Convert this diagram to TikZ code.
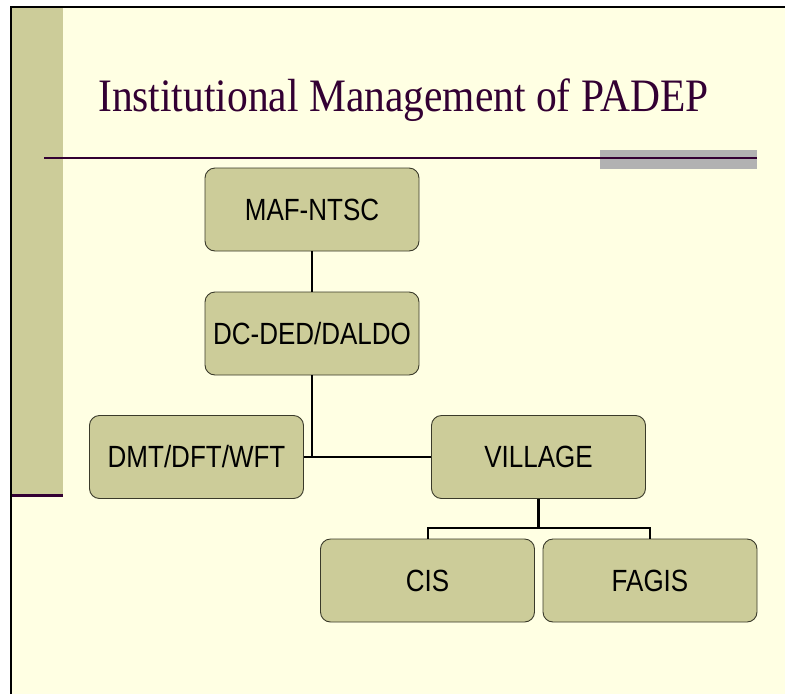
\documentclass[tikz,border=0pt]{standalone}
\usepackage{fontspec}
\setmainfont{Liberation Serif}
\setsansfont{Liberation Sans}
\usepackage{tikz}

\definecolor{slidebg}{HTML}{FFFFE3}
\definecolor{olive}{HTML}{CCCC99}
\definecolor{plum}{HTML}{330033}
\definecolor{bargray}{HTML}{B2B2B2}
\definecolor{edgegray}{HTML}{3A3A2A}

\newcommand{\tallbox}[1]{\scalebox{1}[1.18]{#1}}

\tikzset{
  unit/.style={draw=edgegray, line width=0.9pt, fill=olive, rounded corners=10pt,
    minimum width=214pt, minimum height=83pt, inner sep=0pt,
    font=\sffamily\fontsize{26}{26}\selectfont},
  link/.style={line width=2.6pt, black},
  fork/.style={line width=2pt, black}
}

\begin{document}
\begin{tikzpicture}[x=1pt,y=-1pt]
            \useasboundingbox (0,0) rectangle (785,694);

            % slide background
            \fill[white] (0,0) rectangle (785,694);
            \fill[slidebg] (11,7) rectangle (785,694);
            \fill[olive] (12,8) rectangle (63,496);
            \draw[plum, line width=2.5pt] (12,495.5)--(63,495.5);
            \draw[black, line width=2pt] (11,694)--(11,7)--(785,7);

            % title and rule
            \node[anchor=base west, inner sep=0pt, text=plum,
                  font=\fontsize{41.5}{41.5}\selectfont] (title) at (98,111)
                  {\scalebox{1}[1.12]{Institutional Management of PADEP}};
            \fill[bargray] (600,150) rectangle (757,169);
            \draw[plum, line width=1.6pt] (44,158)--(757,158);

            % chart
            \node[unit] (maf) at (312,209.5) {\tallbox{MAF-NTSC}};
            \node[unit] (dc) at (312,333.5) {\tallbox{DC-DED/DALDO}};
            \node[unit] (dmt) at (196.5,457) {\tallbox{DMT/DFT/WFT}};
            \node[unit] (vil) at (538.5,457) {\tallbox{VILLAGE}};
            \node[unit] (cis) at (427.5,580.5) {\tallbox{CIS}};
            \node[unit] (fag) at (650,580.5) {\tallbox{FAGIS}};
            \coordinate (split) at (538.5,528);

            \draw[link] (maf)--(dc);
            \draw[link] (dc.south)--(dc.south |- dmt.east);
            \draw[fork] (dmt.east)--(vil.west);
            \draw[link] (vil.south)--(split);
            \draw[fork] (cis.north) |- (split) -| (fag.north);
        \end{tikzpicture}
\end{document}
